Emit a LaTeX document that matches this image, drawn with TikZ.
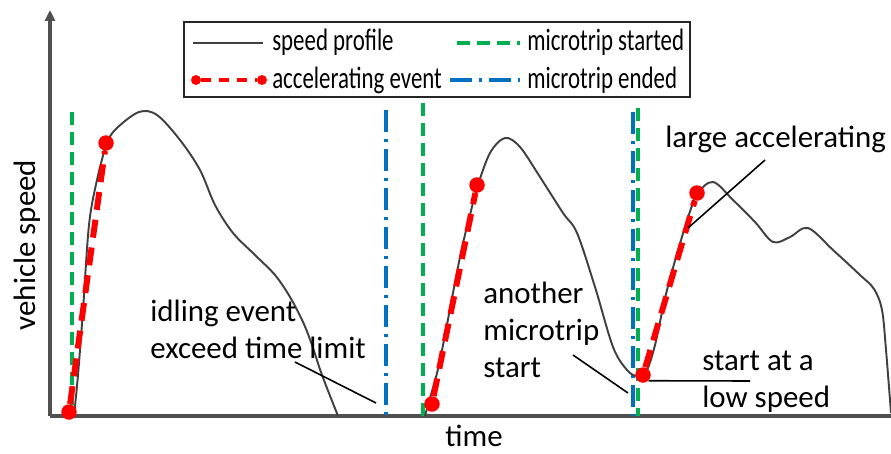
\documentclass[tikz,border=0pt]{standalone}
\usepackage{fontspec}
\setmainfont{Carlito}
\usetikzlibrary{arrows.meta}

\definecolor{profgray}{HTML}{404040}
\definecolor{axisgray}{HTML}{505050}
\definecolor{startgreen}{HTML}{00B050}
\definecolor{endblue}{HTML}{0070C0}
\definecolor{accred}{HTML}{FF0000}

\newcommand{\notefont}{\fontsize{17.6}{21}\selectfont}

\tikzset{
  axisline/.style={draw=axisgray, line width=1.8pt},
  profile/.style={draw=profgray, line width=1.1pt},
  accel/.style={draw=accred, line width=3.4pt, dash pattern=on 0.36cm off 0.2cm},
  accdot/.style={circle, fill=accred, inner sep=0pt, minimum size=0.31cm},
  legdot/.style={circle, fill=accred, inner sep=0pt, minimum size=0.2cm},
  tripstart/.style={draw=startgreen, line width=1.8pt, dash pattern=on 0.26cm off 0.14cm},
  tripend/.style={draw=endblue, line width=1.8pt, dash pattern=on 0.44cm off 0.14cm on 0.06cm off 0.14cm},
  leader/.style={draw=black, line width=0.9pt},
  note/.style={font=\notefont, inner sep=0pt, align=left, anchor=base west},
  legtext/.style={font=\notefont, inner sep=0pt, anchor=base west, xscale=0.74, transform shape}
}

\begin{document}
\begin{tikzpicture}[x=0.02cm,y=-0.02cm]
  \useasboundingbox (0,0) rectangle (891,453);

  % assi
  \coordinate (origin) at (50,416);
  \coordinate (ytop) at (50,10);
  \coordinate (xend) at (891,416);
  \draw[axisline] (origin) -- (xend);
  \draw[axisline, -{Triangle[length=0.22cm,width=0.2cm]}] (origin) -- (ytop);
  \node[font=\notefont, inner sep=0pt, anchor=base] (tlabel) at (474,446) {time};
  \node[font=\notefont, inner sep=0pt, rotate=90, anchor=base] (vlabel) at (35,245) {vehicle speed};

  % inizio e fine dei microtrip
  \draw[tripstart] (72,112) -- (72,416);
  \draw[tripend]   (386,110) -- (386,416);
  \draw[tripstart] (423,103) -- (423,416);
  \draw[tripend]   (633,112) -- (633,416);
  \draw[tripstart] (638,108) -- (638,416);

  % profilo di velocita
  \draw[profile] plot[smooth, tension=0.55] coordinates {
    (74,416) (78,375) (83,310) (89,225) (97,180) (107,143) (117,128)
    (139,112) (157,115) (180,140) (200,170) (215,205) (233,233)
    (255,255) (275,275) (290,297) (303,322) (312,345) (322,375) (338,416)};
  \draw[profile] plot[smooth, tension=0.55] coordinates {
    (425,416) (430,398) (440,360) (460,257) (470,215) (477,188) (490,153)
    (505,138) (520,147) (540,177) (563,213) (577,233) (595,287) (613,347)
    (627,370) (637,376) (646,372) (655,345) (667,290) (685,227) (697,195)
    (713,182) (733,200) (755,222) (773,242) (790,237) (808,228) (833,250)
    (860,275) (874,289) (882,310) (886,350) (891,413)};

  % eventi di accelerazione
  \node[accdot] (a1s) at (69,412) {};
  \node[accdot] (a1e) at (106,143) {};
  \node[accdot] (a2s) at (432,404) {};
  \node[accdot] (a2e) at (477,185) {};
  \node[accdot] (a3s) at (643,375) {};
  \node[accdot] (a3e) at (697,193) {};
  \draw[accel] (a1s) -- (a1e);
  \draw[accel] (a2s) -- (a2e);
  \draw[accel] (a3s) -- (a3e);

  % annotazioni (ancorate alla base dell'ultima riga)
  \node[note] (idlenote) at (150,358) {idling event\\exceed time limit};
  \node[note] (othernote) at (483,377) {another\\microtrip\\start};
  \node[note] (largenote) at (665,147) {large accelerating};
  \node[note] (lownote) at (702,407) {start at a\\low speed};
  \coordinate (idlefrom) at (295,362);
  \coordinate (idleto) at (376,403);
  \coordinate (otherfrom) at (573,355);
  \coordinate (otherto) at (628,393);
  \coordinate (largefrom) at (765,160);
  \coordinate (largeto) at (688,228);
  \coordinate (lowto) at (750,381);
  \draw[leader] (idlefrom) -- (idleto);
  \draw[leader] (otherfrom) -- (otherto);
  \draw[leader] (largefrom) -- (largeto);
  \draw[leader] (a3s.south east) -- (lowto);

  % legenda
  \draw[draw=black!85, line width=1.1pt, fill=white] (184,22) rectangle (690,97);
  \draw[profile] (193,43) -- (263,43);
  \node[legtext] (legprof) at (272,50) {speed profile};
  \node[legdot] (lega) at (196,80) {};
  \node[legdot] (legb) at (262,80) {};
  \draw[draw=accred, line width=2.4pt, dash pattern=on 0.2cm off 0.16cm] (lega) -- (legb);
  \node[legtext] (legacc) at (272,88) {accelerating event};
  \draw[tripstart] (457,43) -- (520,43);
  \node[legtext] (legstart) at (527,50) {microtrip started};
  \draw[tripend] (450,80) -- (520,80);
  \node[legtext] (legend) at (527,88) {microtrip ended};
\end{tikzpicture}
\end{document}
